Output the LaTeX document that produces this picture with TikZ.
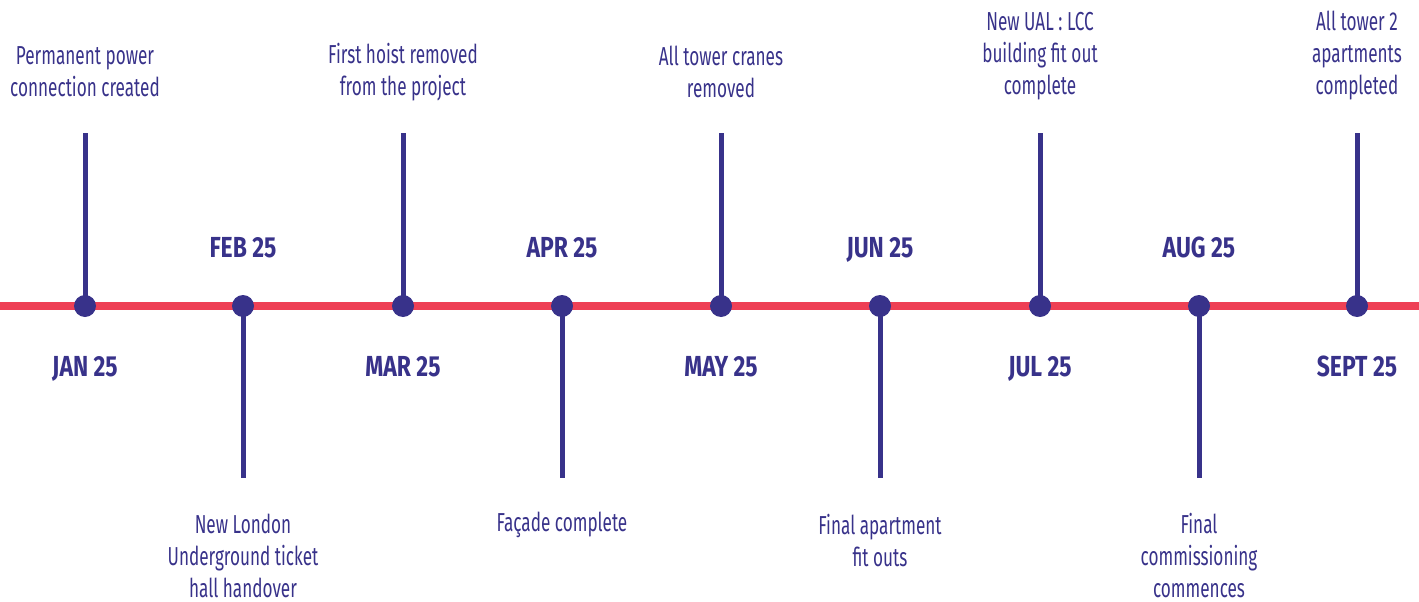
\documentclass[tikz,border=0pt]{standalone}
\usepackage{fontspec}
\setmainfont{Fira Sans}[FakeStretch=0.66]
\newfontfamily\monthfont{Fira Sans}[FakeStretch=0.79]
\definecolor{navy}{HTML}{38328A}
\definecolor{tred}{HTML}{EE4055}
\tikzset{
  axisline/.style={tred, line width=8pt},
  stem/.style={navy, line width=5pt},
  dot/.style={circle, fill=navy, minimum size=22pt, inner sep=0pt},
  lab/.style={navy, align=center, inner sep=0pt, font=\fontsize{26}{32}\selectfont},
  month/.style={navy, inner sep=0pt, anchor=base, font=\monthfont\fontsize{29}{34}\bfseries\selectfont}
}
\begin{document}
\begin{tikzpicture}[x=1pt,y=-1pt]
\useasboundingbox (0,0) rectangle (1419,602);
\coordinate (L) at (0,306);
\coordinate (R) at (1419,306);
\draw[axisline] (L) -- (R);
% dots
\foreach \i/\x in {1/85,2/243,3/403,4/562,5/721,6/880,7/1040,8/1199,9/1357}{
  \coordinate (p\i) at (\x,306);
}
\coordinate (t1) at (85,133);
\coordinate (t3) at (403,133);
\coordinate (t5) at (721,133);
\coordinate (t7) at (1040,133);
\coordinate (t9) at (1357,133);
\coordinate (b2) at (243,478);
\coordinate (b4) at (562,478);
\coordinate (b6) at (880,478);
\coordinate (b8) at (1199,478);
\foreach \i in {1,3,5,7,9}{ \draw[stem] (t\i) -- (p\i); }
\foreach \i in {2,4,6,8}{ \draw[stem] (p\i) -- (b\i); }
\foreach \i in {1,...,9}{ \node[dot] (d\i) at (p\i) {}; }
% month labels
\node[month] (m1) at (85,376) {JAN 25};
\node[month] (m2) at (243,257) {FEB 25};
\node[month] (m3) at (403,376) {MAR 25};
\node[month] (m4) at (562,257) {APR 25};
\node[month] (m5) at (721,376) {MAY 25};
\node[month] (m6) at (880,257) {JUN 25};
\node[month] (m7) at (1040,376) {JUL 25};
\node[month] (m8) at (1199,257) {AUG 25};
\node[month] (m9) at (1357,376) {SEPT 25};
% event labels
\node[lab] (e1) at (85,72) {Permanent power\\connection created};
\node[lab] (e3) at (403,72) {First hoist removed\\from the project};
\node[lab] (e5) at (721,72) {All tower cranes\\removed};
\node[lab] (e7) at (1040,56) {New UAL : LCC\\building fit out\\complete};
\node[lab] (e9) at (1357,56) {All tower 2\\apartments\\completed};
\node[lab] (e2) at (243,556) {New London\\Underground ticket\\hall handover};
\node[lab] (e4) at (562,525) {Façade complete};
\node[lab] (e6) at (880,541) {Final apartment\\fit outs};
\node[lab] (e8) at (1199,556) {Final\\commissioning\\commences};
\end{tikzpicture}
\end{document}
